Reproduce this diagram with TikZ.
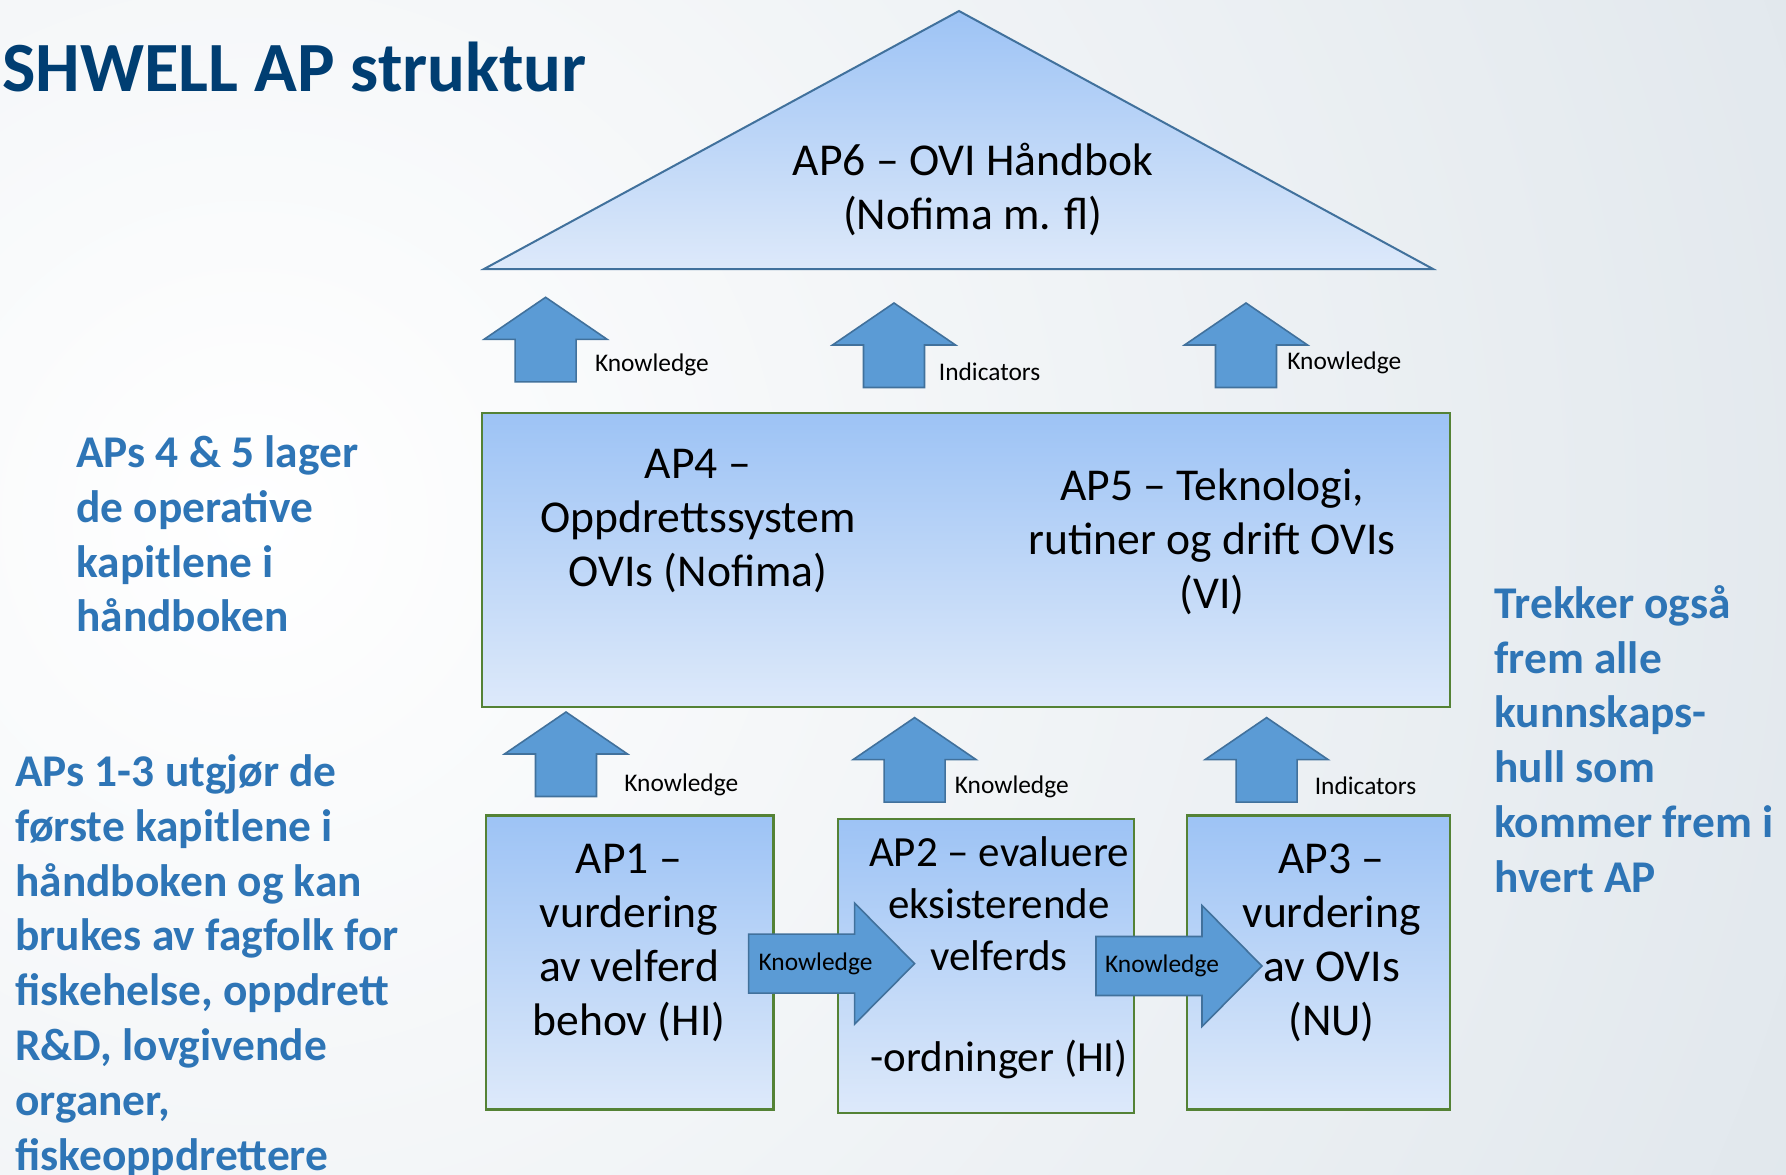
\documentclass[tikz,border=0pt]{standalone}
\usepackage{fontspec}
\setmainfont{Carlito}
\definecolor{titleblue}{RGB}{0,62,114}
\definecolor{noteblue}{RGB}{46,117,182}
\definecolor{boxtop}{RGB}{157,195,245}
\definecolor{boxbot}{RGB}{221,233,250}
\definecolor{boxgreen}{RGB}{84,130,53}
\definecolor{arrfill}{RGB}{91,155,213}
\definecolor{arrline}{RGB}{65,113,156}
\definecolor{bgout}{RGB}{198,210,220}
\begin{document}
\begin{tikzpicture}[x=0.5pt,y=-0.5pt,
  boxstyle/.style={top color=boxtop, bottom color=boxbot, draw=boxgreen, line width=1.2pt},
  arrowstyle/.style={fill=arrfill, draw=arrline, line width=0.8pt, line join=miter},
  big/.style={font=\fontsize{22.8pt}{27pt}\selectfont, align=center, inner sep=0pt},
  lbl/.style={font=\fontsize{12.7pt}{15pt}\selectfont, inner sep=0pt, anchor=west},
  note/.style={font=\bfseries\fontsize{22.7pt}{27.4pt}\selectfont, text=noteblue, align=left, inner sep=0pt, anchor=west},
  uparrow/.pic={\filldraw[arrowstyle] (0,0) -- (61.5,42) -- (30.5,42) -- (30.5,84.5) -- (-30.5,84.5) -- (-30.5,42) -- (-61.5,42) -- cycle;},
  rightarrow/.pic={\filldraw[arrowstyle] (0,0) -- (-60,-60.5) -- (-60,-29.5) -- (-166,-29.5) -- (-166,29.5) -- (-60,29.5) -- (-60,60.5) -- cycle;}
]
\useasboundingbox (0,0) rectangle (1786,1174);
% background
\begin{scope}
\clip (0,0) rectangle (1786,1174);
\shade[inner color=white, outer color=bgout] (250,520) circle (3200);
\end{scope}

% title
\node[anchor=base west, font=\bfseries\fontsize{35.3pt}{40pt}\selectfont, text=titleblue, inner sep=0pt] (title) at (2,91) {SHWELL AP struktur};

% triangle AP6
\coordinate (apex) at (959,11);
\coordinate (tl) at (484,269);
\coordinate (tr) at (1433,269);
\shadedraw[top color=boxtop, bottom color=boxbot, draw=arrline, line width=1pt] (apex) -- (tr) -- (tl) -- cycle;
\node[big] (ap6) at (973,189.5) {AP6 – OVI Håndbok\\(Nofima m. fl)};

% upper arrows
\pic (ua1) at (545.6,297.3) {uparrow};
\pic (ua2) at (894,303) {uparrow};
\pic (ua3) at (1246,303) {uparrow};
\node[lbl] (ual1) at (594.6,364.5) {Knowledge};
\node[lbl] (ual2) at (938.5,371.3) {Indicators};
\node[lbl] (ual3) at (1287,363.3) {Knowledge};

% AP4/AP5 box
\shadedraw[boxstyle] (482,413) rectangle (1450,707);
\node[big] (ap4) at (698,521) {AP4 –\\Oppdrettssystem\\OVIs (Nofima)};
\node[big] (ap5) at (1212,541.5) {AP5 – Teknologi,\\rutiner og drift OVIs\\(VI)};

% lower arrows
\pic (la1) at (566,712) {uparrow};
\pic (la2) at (914.6,717.6) {uparrow};
\pic (la3) at (1266.6,717.6) {uparrow};
\node[lbl] (lal1) at (624,784.8) {Knowledge};
\node[lbl] (lal2) at (954.5,787) {Knowledge};
\node[lbl] (lal3) at (1314.4,786) {Indicators};

% bottom boxes
\shadedraw[boxstyle] (486,815.5) rectangle (773.4,1109.4);
\shadedraw[boxstyle] (838,819) rectangle (1134,1113);
\shadedraw[boxstyle] (1187,815.5) rectangle (1450,1109.4);

% right arrows
\pic (ra1) at (914.6,963.6) {rightarrow};
\pic (ra2) at (1262,966) {rightarrow};
\node[lbl, anchor=center] (ral1) at (815.5,963.6) {Knowledge};
\node[lbl, anchor=center] (ral2) at (1162,966) {Knowledge};

\node[big] (ap1) at (629,942.5) {AP1 –\\vurdering\\av velferd\\behov (HI)};
\node[big, font=\fontsize{21.5pt}{25.9pt}\selectfont] (ap2) at (999,958) {AP2 – evaluere\\eksisterende\\velferds\\[24.8pt]-ordninger (HI)};
\node[big] (ap3) at (1331.5,942.5) {AP3 –\\vurdering\\av OVIs\\(NU)};

% notes
\node[note] (n1) at (76,534) {APs 4 \& 5 lager\\de operative\\kapitlene i\\håndboken};
\node[note] (n2) at (15,966) {APs 1-3 utgjør de\\første kapitlene i\\håndboken og kan\\brukes av fagfolk for\\fiskehelse, oppdrett\\R\&D, lovgivende\\organer,\\fiskeoppdrettere};
\node[note] (n3) at (1494,739) {Trekker også\\frem alle\\kunnskaps-\\hull som\\kommer frem i\\hvert AP};
\end{tikzpicture}
\end{document}
